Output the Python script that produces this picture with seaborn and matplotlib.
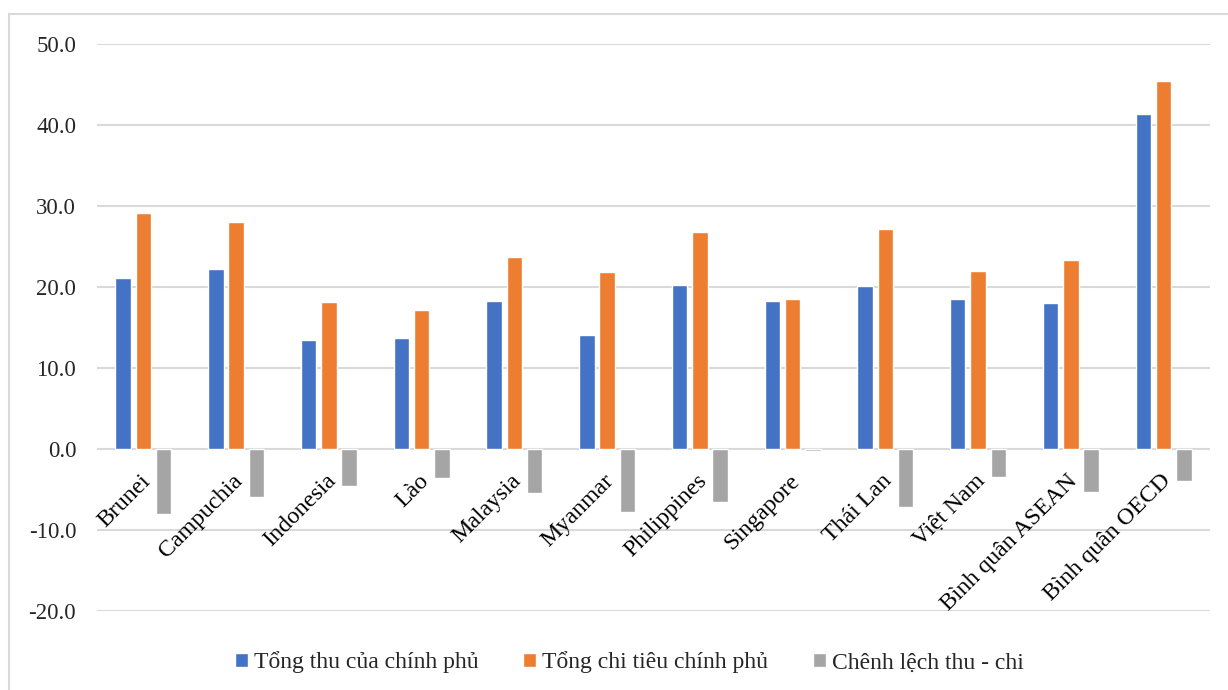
import matplotlib.pyplot as plt
import pandas as pd
import seaborn as sns
from matplotlib.patches import Rectangle

# ===============================
# Dữ liệu (% GDP)
# ===============================
countries = ['Brunei', 'Campuchia', 'Indonesia', 'Lào', 'Malaysia', 'Myanmar',
             'Philippines', 'Singapore', 'Thái Lan', 'Việt Nam',
             'Bình quân ASEAN', 'Bình quân OECD']
thu = [21.1, 22.2, 13.5, 13.7, 18.3, 14.1, 20.3, 18.3, 20.1, 18.5, 18.0, 41.4]
chi = [29.1, 28.0, 18.2, 17.2, 23.7, 21.9, 26.8, 18.5, 27.2, 22.0, 23.3, 45.4]
chenh_lech = [-8.0, -5.9, -4.6, -3.6, -5.4, -7.8, -6.5, -0.2, -7.1, -3.5, -5.3, -4.0]

series_names = ['Tổng thu của chính phủ', 'Tổng chi tiêu chính phủ', 'Chênh lệch thu - chi']
colors = ['#4472C4', '#ED7D31', '#A5A5A5']

df = pd.DataFrame({
    'country': countries * 3,
    'value': thu + chi + chenh_lech,
    'series': [series_names[0]] * 12 + [series_names[1]] * 12 + [series_names[2]] * 12,
})

# ===============================
# Vẽ
# ===============================
sns.set_theme(style='white')
plt.rcParams['font.family'] = ['Liberation Serif', 'DejaVu Serif']

fig = plt.figure(figsize=(12.28, 6.9), dpi=100)
ax = fig.add_axes([0.0790, 0.1145, 0.9063, 0.8215])

sns.barplot(data=df, x='country', y='value', hue='series', hue_order=series_names,
            palette=colors, width=0.657, gap=0.24, saturation=1, ax=ax, legend=False)

ax.set_ylim(-20, 50)
ax.set_yticks(range(-20, 51, 10))
ax.set_yticklabels([f'{v:.1f}' for v in range(-20, 51, 10)], fontsize=16.5)
ax.set_xlim(-0.5, len(countries) - 0.5)
ax.yaxis.grid(True, color='#D9D9D9', linewidth=1.5)
ax.set_axisbelow(True)
for s in ax.spines.values():
    s.set_visible(False)
ax.tick_params(axis='y', length=0, pad=15)
ax.tick_params(axis='x', length=0, pad=0)
ax.set_xlabel('')
ax.set_ylabel('')

# nhãn trục x xoay 45 độ, đặt dưới đường 0
ax.set_xticks(range(len(countries)))
ax.set_xticklabels([])
for i, name in enumerate(countries):
    ax.text(i - 0.04, -2.65, name, rotation=45, ha='right', va='top',
            rotation_mode='anchor', fontsize=17.2, color='black')

# chú thích
handles = [Rectangle((0, 0), 1, 1, facecolor=c) for c in colors]
fig.legend(handles, series_names, loc='center', bbox_to_anchor=(0.5126, 0.04),
           ncol=3, frameon=False, fontsize=17, handlelength=0.55,
           handleheight=0.55, handletextpad=0.25, columnspacing=1.9)

# khung viền ngoài
fig.patches.append(Rectangle((9 / 1228, -0.1), 1.2, 1.1 - 14 / 690, transform=fig.transFigure,
                             fill=False, edgecolor='#D9D9D9', linewidth=1.5))

plt.savefig('out.png', dpi=100)
plt.close()
